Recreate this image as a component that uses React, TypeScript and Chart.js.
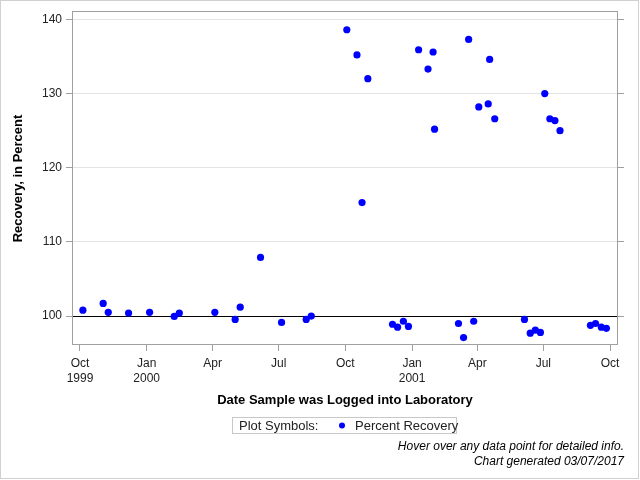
import React, { useEffect, useRef } from "react";
import { Chart, registerables } from "chart.js";

Chart.register(...registerables);

// Sample log dates and percent recovery values
const sampleDates: string[] = [
  "1999-10-05", "1999-11-02", "1999-11-09", "1999-12-07", "2000-01-05",
  "2000-02-08", "2000-02-15", "2000-04-04", "2000-05-02", "2000-05-09",
  "2000-06-06", "2000-07-05", "2000-08-08", "2000-08-15", "2000-10-03",
  "2000-10-17", "2000-10-24", "2000-11-01", "2000-12-05", "2000-12-12",
  "2000-12-20", "2000-12-27", "2001-01-10", "2001-01-23", "2001-01-30",
  "2001-02-01", "2001-03-06", "2001-03-13", "2001-03-20", "2001-03-27",
  "2001-04-03", "2001-04-16", "2001-04-18", "2001-04-25", "2001-06-05",
  "2001-06-13", "2001-06-20", "2001-06-27", "2001-07-03", "2001-07-10",
  "2001-07-17", "2001-07-24", "2001-09-04", "2001-09-11", "2001-09-19",
  "2001-09-26",
];
const recoveryValues: number[] = [
  100.8, 101.7, 100.5, 100.4, 100.5,
  99.95, 100.4, 100.5, 99.55, 101.2,
  107.9, 99.15, 99.55, 100.0, 138.6,
  135.2, 115.3, 132.0, 98.9, 98.5,
  99.3, 98.6, 135.9, 133.3, 135.6,
  125.2, 99.0, 97.1, 137.3, 99.3,
  128.2, 128.6, 134.6, 126.6, 99.55,
  97.7, 98.1, 97.8, 130.0, 126.6,
  126.35, 125.0, 98.75, 99.0, 98.5,
  98.35,
];
const xTickDates: string[] = [
  "1999-10-01", "2000-01-01", "2000-04-01", "2000-07-01", "2000-10-01",
  "2001-01-01", "2001-04-01", "2001-07-01", "2001-10-01",
];
const xTickLabels: (string | string[])[] = [
  ["Oct", "1999"], ["Jan", "2000"], "Apr", "Jul", "Oct",
  ["Jan", "2001"], "Apr", "Jul", "Oct",
];
const yTickValues: number[] = [100, 110, 120, 130, 140];
const referenceValue = 100;
const xAxisRange: string[] = ["1999-09-20", "2001-10-12"];
const yAxisRange: number[] = [96.1, 141.1];

const EPOCH = Date.UTC(1999, 9, 1);
const toDays = (s: string) => {
  const [y, m, d] = s.split("-").map(Number);
  return (Date.UTC(y, m - 1, d) - EPOCH) / 86400000;
};

const FONT = "'Liberation Sans', Arial, sans-serif";

export default function App() {
  const ref = useRef<HTMLCanvasElement | null>(null);

  useEffect(() => {
    if (!ref.current) return;
    const xTicks = xTickDates.map(toDays);

    const decor = {
      id: "decor",
      beforeDatasetsDraw(chart: any) {
        const { ctx, chartArea, scales } = chart;
        ctx.save();
        const yv = Math.round(scales.y.getPixelForValue(referenceValue)) + 0.5;
        ctx.strokeStyle = "#000";
        ctx.lineWidth = 1;
        ctx.beginPath();
        ctx.moveTo(chartArea.left, yv);
        ctx.lineTo(chartArea.right, yv);
        ctx.stroke();
        ctx.restore();
      },
      afterDraw(chart: any) {
        const { ctx, chartArea } = chart;
        ctx.save();
        ctx.strokeStyle = "#a0a0a0";
        ctx.lineWidth = 1;
        ctx.strokeRect(
          Math.round(chartArea.left) + 0.5,
          Math.round(chartArea.top) + 0.5,
          Math.round(chartArea.right - chartArea.left) - 1,
          Math.round(chartArea.bottom - chartArea.top) - 1
        );
        ctx.strokeStyle = "#d0d0d0";
        ctx.strokeRect(0.5, 0.5, 638, 478);

        ctx.fillStyle = "#000";
        ctx.font = `bold 13px ${FONT}`;
        ctx.textAlign = "center";
        ctx.textBaseline = "middle";
        ctx.fillText("Date Sample was Logged into Laboratory", 345, 400.5);
        ctx.save();
        ctx.translate(18, 178.5);
        ctx.rotate(-Math.PI / 2);
        ctx.fillText("Recovery, in Percent", 0, 0);
        ctx.restore();

        ctx.strokeStyle = "#c8c8c8";
        ctx.strokeRect(232.5, 417.5, 224, 16);
        ctx.font = `13px ${FONT}`;
        ctx.textAlign = "left";
        ctx.fillStyle = "#222";
        ctx.fillText("Plot Symbols:", 239, 426);
        ctx.fillStyle = "#0000ff";
        ctx.beginPath();
        ctx.arc(342, 425.5, 3, 0, Math.PI * 2);
        ctx.fill();
        ctx.fillStyle = "#222";
        ctx.fillText("Percent Recovery", 355, 426);

        ctx.font = `italic 12px ${FONT}`;
        ctx.textAlign = "right";
        ctx.fillStyle = "#000";
        ctx.fillText("Hover over any data point for detailed info.", 624, 446.5);
        ctx.fillText("Chart generated 03/07/2017", 624, 461.5);
        ctx.restore();
      },
    };

    const chart = new Chart(ref.current, {
      type: "scatter",
      data: {
        datasets: [
          {
            label: "Percent Recovery",
            data: sampleDates.map((d, i) => ({ x: toDays(d), y: recoveryValues[i] })),
            backgroundColor: "#0000ff",
            borderWidth: 0,
            pointRadius: 3.6,
            pointHoverRadius: 3.6,
          },
        ],
      },
      options: {
        responsive: false,
        animation: false,
        layout: { padding: { top: 11, left: 0, right: 0, bottom: 0 } },
        plugins: {
          legend: { display: false },
          tooltip: { enabled: true },
        },
        scales: {
          x: {
            type: "linear",
            position: "bottom",
            min: toDays(xAxisRange[0]),
            max: toDays(xAxisRange[1]),
            afterBuildTicks: (s: any) => {
              s.ticks = xTicks.map((v) => ({ value: v }));
            },
            afterFit: (s: any) => {
              s.height = 480 - 345;
            },
            grid: {
              drawOnChartArea: false,
              drawTicks: true,
              tickLength: 6,
              tickColor: "#a0a0a0",
            },
            border: { display: false },
            ticks: {
              autoSkip: false,
              maxRotation: 0,
              padding: 5,
              color: "#222",
              font: { family: FONT, size: 12, lineHeight: 1.25 },
              callback: (_v: any, i: number) => xTickLabels[i],
            },
          },
          y: {
            type: "linear",
            position: "left",
            min: yAxisRange[0],
            max: yAxisRange[1],
            afterBuildTicks: (s: any) => {
              s.ticks = yTickValues.map((v) => ({ value: v }));
            },
            afterFit: (s: any) => {
              s.width = 72;
            },
            grid: {
              color: "#e4e4e4",
              drawTicks: true,
              tickLength: 6,
              tickColor: "#a0a0a0",
            },
            border: { display: false },
            ticks: {
              padding: 4,
              color: "#222",
              font: { family: FONT, size: 12 },
              callback: (v: any) => String(v),
            },
          },
          y2: {
            type: "linear",
            position: "right",
            min: yAxisRange[0],
            max: yAxisRange[1],
            afterBuildTicks: (s: any) => {
              s.ticks = yTickValues.map((v) => ({ value: v }));
            },
            afterFit: (s: any) => {
              s.width = 22;
            },
            grid: {
              drawOnChartArea: false,
              drawTicks: true,
              tickLength: 6,
              tickColor: "#a0a0a0",
            },
            border: { display: false },
            ticks: { display: false },
          },
        },
      },
      plugins: [decor],
    } as any);

    return () => chart.destroy();
  }, []);

  return (
    <div style={{ position: "fixed", left: 0, top: 0, width: 640, height: 480, background: "#fff" }}>
      <canvas ref={ref} width={640} height={480} style={{ display: "block" }} />
    </div>
  );
}
